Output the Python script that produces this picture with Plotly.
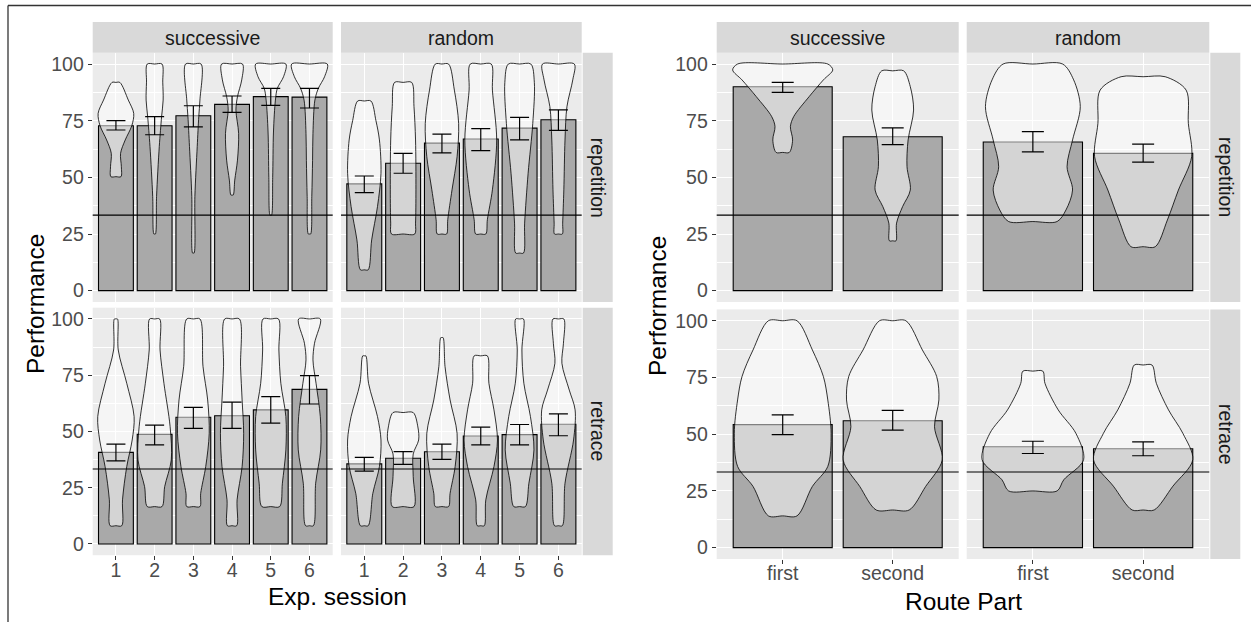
import plotly.graph_objects as go

W, H = 1251, 622

# ---------------- data ----------------
sessions = [1, 2, 3, 4, 5, 6]
session_labels = ["1", "2", "3", "4", "5", "6"]
route_parts = [1, 2]
route_labels = ["first", "second"]
col_labels = ["successive", "random"]
row_labels = ["repetition", "retrace"]
y_ticks = [0, 25, 50, 75, 100]
y_tick_labels = ["0", "25", "50", "75", "100"]
chance_level = 100 / 3

# Exp. session: mean performance and error-bar ends
sess_rep_succ_mean = [72.8, 72.8, 77.2, 82.2, 85.6, 85.4]
sess_rep_succ_lo = [70.9, 68.8, 72.3, 78.7, 81.8, 80.6]
sess_rep_succ_hi = [75.0, 76.8, 81.6, 85.9, 89.3, 89.3]
sess_rep_rand_mean = [47.1, 56.2, 65.1, 66.9, 71.7, 75.4]
sess_rep_rand_lo = [43.3, 51.8, 60.8, 61.8, 66.5, 70.7]
sess_rep_rand_hi = [50.6, 60.6, 69.1, 71.5, 76.5, 79.8]
sess_ret_succ_mean = [40.7, 48.7, 56.3, 57.0, 59.6, 68.7]
sess_ret_succ_lo = [36.9, 44.0, 51.4, 51.4, 53.7, 62.2]
sess_ret_succ_hi = [44.4, 52.8, 60.7, 63.0, 65.5, 74.8]
sess_ret_rand_mean = [35.6, 38.1, 41.0, 48.0, 48.6, 53.2]
sess_ret_rand_lo = [32.4, 35.4, 37.6, 44.0, 44.0, 48.1]
sess_ret_rand_hi = [38.5, 41.0, 44.4, 51.9, 53.1, 57.8]

# Route part: mean performance and error-bar ends
route_rep_succ_mean = [90.0, 67.9]
route_rep_succ_lo = [87.5, 64.4]
route_rep_succ_hi = [91.9, 71.8]
route_rep_rand_mean = [65.6, 60.6]
route_rep_rand_lo = [61.2, 56.7]
route_rep_rand_hi = [70.2, 64.7]
route_ret_succ_mean = [54.2, 55.9]
route_ret_succ_lo = [49.8, 51.8]
route_ret_succ_hi = [58.5, 60.5]
route_ret_rand_mean = [44.5, 43.6]
route_ret_rand_lo = [41.5, 40.5]
route_ret_rand_hi = [46.9, 46.6]

# violin outlines: [performance value, half-width in category units], top to bottom
sess_rep_succ_violin = [
    [[91.9, 0.10], [84.1, 0.32], [78.2, 0.46], [72.8, 0.41], [66.5, 0.24], [60.6, 0.12], [54.7, 0.14], [50.3, 0.13]],
    [[100, 0.19], [92, 0.21], [84.1, 0.22], [76.8, 0.18], [63.6, 0.12], [41.6, 0.05], [25, 0.02]],
    [[100, 0.20], [84.1, 0.17], [76.8, 0.14], [63.6, 0.10], [41.6, 0.04], [16.6, 0.02]],
    [[100, 0.27], [93, 0.25], [85.6, 0.14], [79.7, 0.10], [69.4, 0.17], [57.6, 0.14], [48.8, 0.07], [42.2, 0.03]],
    [[100, 0.39], [94.4, 0.33], [89.3, 0.17], [84.1, 0.12], [70, 0.07], [50, 0.05], [33.3, 0.02]],
    [[100, 0.46], [94.4, 0.39], [89.3, 0.23], [84.1, 0.14], [69.4, 0.09], [57.5, 0.08], [41.6, 0.06], [25, 0.03]],
]
sess_rep_rand_violin = [
    [[83.7, 0.17], [75, 0.30], [66.5, 0.39], [51.8, 0.43], [37.1, 0.34], [22.4, 0.19], [9.2, 0.10]],
    [[91.9, 0.22], [81.2, 0.28], [66.5, 0.32], [44.5, 0.33], [29.8, 0.32], [25, 0.30]],
    [[100, 0.17], [88.5, 0.32], [73.8, 0.43], [59.1, 0.39], [44.5, 0.26], [31.3, 0.15], [25, 0.12]],
    [[100, 0.27], [88.5, 0.30], [66.5, 0.41], [44.5, 0.30], [31.3, 0.17], [25, 0.13]],
    [[100, 0.29], [91.9, 0.38], [73.8, 0.34], [51.8, 0.22], [29.8, 0.13], [16.6, 0.10]],
    [[100, 0.41], [93, 0.37], [81.2, 0.22], [66.5, 0.17], [44.5, 0.14], [29.8, 0.11], [25, 0.10]],
]
sess_ret_succ_violin = [
    [[100, 0.04], [86.2, 0.06], [71.4, 0.28], [56.6, 0.47], [46.2, 0.42], [34.4, 0.28], [19.6, 0.17], [8.1, 0.15]],
    [[100, 0.13], [86.2, 0.14], [71.4, 0.24], [52.1, 0.40], [37.3, 0.43], [25.5, 0.26], [16.6, 0.19]],
    [[100, 0.17], [78.8, 0.25], [64, 0.37], [49.2, 0.41], [34.4, 0.32], [22.5, 0.19], [16.6, 0.17]],
    [[100, 0.19], [78.8, 0.22], [64, 0.26], [49.2, 0.30], [34.4, 0.26], [19.6, 0.13], [8.1, 0.12]],
    [[100, 0.20], [86.2, 0.21], [71.4, 0.26], [56.6, 0.39], [41.8, 0.39], [27, 0.30], [16.6, 0.23]],
    [[100, 0.28], [89.2, 0.13], [81.8, 0.09], [71.4, 0.17], [56.6, 0.28], [41.8, 0.29], [27, 0.16], [8.1, 0.10]],
]
sess_ret_rand_violin = [
    [[83.6, 0.04], [71.4, 0.11], [56.6, 0.34], [46.2, 0.43], [34.4, 0.39], [22.5, 0.22], [8.1, 0.10]],
    [[58.4, 0.26], [52, 0.38], [46.2, 0.40], [40, 0.26], [30, 0.26], [16.6, 0.28]],
    [[91.7, 0.03], [78.8, 0.08], [64, 0.21], [49.2, 0.39], [34.4, 0.34], [22.5, 0.21], [16.6, 0.17]],
    [[83.6, 0.17], [71.4, 0.21], [59.6, 0.34], [46.2, 0.43], [34.4, 0.34], [19.6, 0.13], [8.1, 0.09]],
    [[100, 0.10], [86.2, 0.06], [71.4, 0.11], [56.6, 0.28], [41.8, 0.37], [27, 0.24], [16.6, 0.15]],
    [[100, 0.14], [89.2, 0.13], [80.3, 0.09], [68.4, 0.28], [59.6, 0.43], [46.2, 0.39], [27, 0.17], [8.1, 0.10]],
]
route_rep_succ_violin = [
    [[100, 0.41], [97.4, 0.455], [93, 0.37], [85.6, 0.24], [76.8, 0.10], [72.4, 0.07], [66.5, 0.09], [61, 0.06]],
    [[97, 0.10], [90, 0.16], [79.7, 0.19], [66.5, 0.14], [54.7, 0.13], [44.4, 0.16], [37.1, 0.09], [29.8, 0.035], [22, 0.03]],
]
route_rep_rand_violin = [
    [[100, 0.27], [93, 0.37], [81.2, 0.43], [66.5, 0.36], [54.7, 0.31], [44.4, 0.36], [35.6, 0.30], [30.5, 0.22]],
    [[94.4, 0.20], [88.5, 0.39], [73.8, 0.41], [59.1, 0.44], [44.4, 0.32], [31.2, 0.22], [19.4, 0.11]],
]
route_ret_succ_violin = [
    [[100, 0.13], [87.1, 0.27], [75.4, 0.37], [65.1, 0.41], [50.4, 0.44], [35.8, 0.41], [27, 0.27], [14, 0.13]],
    [[100, 0.12], [87.1, 0.27], [75.4, 0.40], [65.1, 0.42], [53.3, 0.38], [38.6, 0.45], [27, 0.30], [16.6, 0.15]],
]
route_ret_rand_violin = [
    [[77.8, 0.09], [72.4, 0.11], [60.7, 0.23], [50.4, 0.39], [38.7, 0.46], [29.9, 0.28], [25, 0.22]],
    [[80.5, 0.08], [72.4, 0.12], [60.7, 0.23], [50.4, 0.36], [38.7, 0.45], [27.1, 0.27], [16.6, 0.10]],
]

# ---------------- layout geometry (pixels) ----------------
FONT = "Liberation Sans, Arial, sans-serif"
BAR_FILL = "#A9A9A9"
PANEL_BG = "#EBEBEB"
STRIP_BG = "#D9D9D9"

left_cols = [(92.7, 332.7), (341.0, 581.7)]
left_rows = [(52.7, 302.0), (307.7, 555.2)]
right_cols = [(716.7, 958.7), (966.7, 1209.3)]
right_rows = [(52.7, 302.0), (309.4, 559.0)]

panels = []
left_data = [
    [(sess_rep_succ_mean, sess_rep_succ_lo, sess_rep_succ_hi, sess_rep_succ_violin),
     (sess_rep_rand_mean, sess_rep_rand_lo, sess_rep_rand_hi, sess_rep_rand_violin)],
    [(sess_ret_succ_mean, sess_ret_succ_lo, sess_ret_succ_hi, sess_ret_succ_violin),
     (sess_ret_rand_mean, sess_ret_rand_lo, sess_ret_rand_hi, sess_ret_rand_violin)],
]
right_data = [
    [(route_rep_succ_mean, route_rep_succ_lo, route_rep_succ_hi, route_rep_succ_violin),
     (route_rep_rand_mean, route_rep_rand_lo, route_rep_rand_hi, route_rep_rand_violin)],
    [(route_ret_succ_mean, route_ret_succ_lo, route_ret_succ_hi, route_ret_succ_violin),
     (route_ret_rand_mean, route_ret_rand_lo, route_ret_rand_hi, route_ret_rand_violin)],
]
for r in range(2):
    for c in range(2):
        panels.append(dict(xp=left_cols[c], yp=left_rows[r], xv=sessions, xl=session_labels,
                           d=left_data[r][c], capw=9.5, row=r, col=c))
for r in range(2):
    for c in range(2):
        panels.append(dict(xp=right_cols[c], yp=right_rows[r], xv=route_parts, xl=route_labels,
                           d=right_data[r][c], capw=11, row=r, col=c))

fig = go.Figure()
layout = dict(
    width=W, height=H, margin=dict(l=0, r=0, t=0, b=0),
    paper_bgcolor="white", plot_bgcolor=PANEL_BG, showlegend=False,
    barmode="overlay", font=dict(family=FONT, color="#4D4D4D", size=19.5),
)
shapes = []
annotations = []

for i, p in enumerate(panels, start=1):
    sx = "" if i == 1 else str(i)
    xa, ya = "x" + sx, "y" + sx
    means, lo, hi, viol = p["d"]
    xv = p["xv"]
    n = len(xv)
    # bars
    fig.add_trace(go.Bar(x=xv, y=means, width=0.9, marker=dict(color=BAR_FILL, line=dict(color="black", width=1.1)),
                         xaxis=xa, yaxis=ya, hoverinfo="skip"))
    # violins
    for k, prof in enumerate(viol):
        cx = xv[k]
        top, bot = prof[0][0], prof[-1][0]
        xs = [cx] + [cx + w for v, w in prof] + [cx] + [cx - w for v, w in reversed(prof)] + [cx]
        ys = [top] + [v for v, w in prof] + [bot] + [v for v, w in reversed(prof)] + [top]
        fig.add_trace(go.Scatter(x=xs, y=ys, mode="lines", fill="toself", fillcolor="rgba(255,255,255,0.5)",
                                 line=dict(color="black", width=0.8, shape="spline", smoothing=0.9),
                                 xaxis=xa, yaxis=ya, hoverinfo="skip"))
    # error bars
    fig.add_trace(go.Scatter(x=xv, y=means, mode="markers", marker=dict(size=1, color="rgba(0,0,0,0)"),
                             error_y=dict(type="data", symmetric=False,
                                          array=[h - m for h, m in zip(hi, means)],
                                          arrayminus=[m - l for m, l in zip(means, lo)],
                                          width=p["capw"], thickness=1.2, color="black"),
                             xaxis=xa, yaxis=ya, hoverinfo="skip"))
    # chance line
    shapes.append(dict(type="line", xref=xa + " domain", x0=0, x1=1, yref=ya, y0=chance_level, y1=chance_level,
                       line=dict(color="black", width=1.1), layer="above"))

    x0, x1 = p["xp"]
    y0, y1 = p["yp"]
    bottom = p["row"] == 1
    leftc = p["col"] == 0
    layout["xaxis" + sx] = dict(
        domain=[x0 / W, x1 / W], anchor=ya, range=[0.4, n + 0.6],
        tickmode="array", tickvals=xv, ticktext=p["xl"], showticklabels=bottom,
        ticks="outside" if bottom else "", ticklen=4, tickcolor="#333333", tickwidth=1,
        ticklabelstandoff=-7,
        showgrid=True, gridcolor="white", gridwidth=1.1, zeroline=False, showline=False,
        tickfont=dict(size=19.5, color="#4D4D4D", family=FONT),
    )
    layout["yaxis" + sx] = dict(
        domain=[1 - y1 / H, 1 - y0 / H], anchor=xa, range=[-5, 105],
        tickmode="array", tickvals=y_ticks, ticktext=y_tick_labels, showticklabels=leftc,
        ticks="outside" if leftc else "", ticklen=4, tickcolor="#333333", tickwidth=1,
        showgrid=True, gridcolor="white", gridwidth=1.1, zeroline=False, showline=False,
        minor=dict(tickmode="array", tickvals=[-12.5 + 25 * j for j in range(1, 5)], showgrid=True,
                   gridcolor="white", gridwidth=0.55, ticks=""),
        tickfont=dict(size=19.5, color="#4D4D4D", family=FONT),
    )

# strips
def prect(px0, py0, px1, py1):
    return dict(type="rect", xref="paper", yref="paper", x0=px0 / W, x1=px1 / W, y0=1 - py1 / H, y1=1 - py0 / H,
                fillcolor=STRIP_BG, line=dict(width=0), layer="below")

for cols, rows, strip_x in [(left_cols, left_rows, (582.7, 612.7)), (right_cols, right_rows, (1210.3, 1240.3))]:
    for c, (cx0, cx1) in enumerate(cols):
        shapes.append(prect(cx0, 22.0, cx1, 52.7))
        annotations.append(dict(x=(cx0 + cx1) / 2 / W, y=1 - 37.5 / H, xref="paper", yref="paper",
                                text=col_labels[c], showarrow=False, xanchor="center", yanchor="middle",
                                font=dict(size=19.5, color="#1A1A1A", family=FONT)))
    for r, (ry0, ry1) in enumerate(rows):
        shapes.append(prect(strip_x[0], ry0, strip_x[1], ry1))
        annotations.append(dict(x=(strip_x[0] + strip_x[1]) / 2 / W, y=1 - (ry0 + ry1) / 2 / H,
                                xref="paper", yref="paper", text=row_labels[r], textangle=90,
                                showarrow=False, xanchor="center", yanchor="middle",
                                font=dict(size=19.5, color="#1A1A1A", family=FONT)))

# axis titles
title_font = dict(size=24.5, color="black", family=FONT)
annotations += [
    dict(x=337 / W, y=1 - 596 / H, xref="paper", yref="paper", text="Exp. session", showarrow=False,
         xanchor="center", yanchor="middle", font=title_font),
    dict(x=963 / W, y=1 - 601 / H, xref="paper", yref="paper", text="Route Part", showarrow=False,
         xanchor="center", yanchor="middle", font=title_font),
    dict(x=35 / W, y=1 - 304 / H, xref="paper", yref="paper", text="Performance", textangle=-90, showarrow=False,
         xanchor="center", yanchor="middle", font=title_font),
    dict(x=657 / W, y=1 - 306 / H, xref="paper", yref="paper", text="Performance", textangle=-90, showarrow=False,
         xanchor="center", yanchor="middle", font=title_font),
]

# outer frame (top and left edges)
shapes.append(dict(type="line", xref="paper", yref="paper", x0=8 / W, x1=1, y0=1 - 5.5 / H, y1=1 - 5.5 / H,
                   line=dict(color="#333333", width=1.3)))
shapes.append(dict(type="line", xref="paper", yref="paper", x0=8 / W, x1=8 / W, y0=0, y1=1 - 5.5 / H,
                   line=dict(color="#333333", width=1.3)))

layout["shapes"] = shapes
layout["annotations"] = annotations
fig.update_layout(**layout)
fig.write_html("out.html", config={"displayModeBar": False},
               post_script="document.body.style.margin='0';document.body.style.overflow='hidden';")
